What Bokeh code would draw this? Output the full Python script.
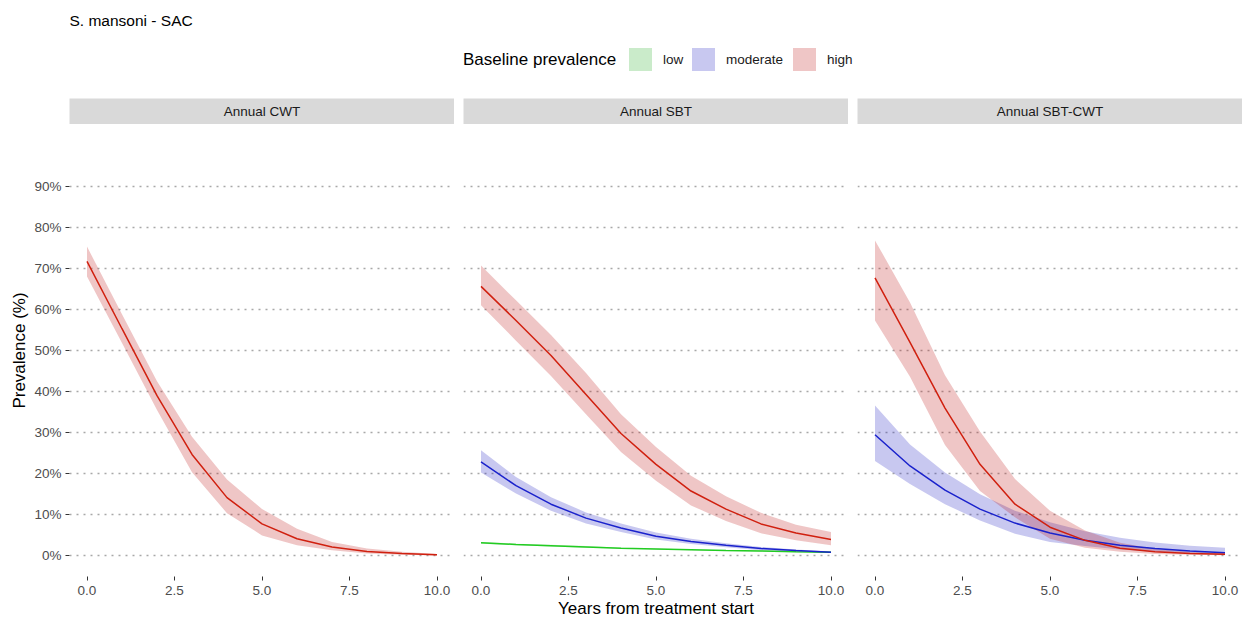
from bokeh.plotting import figure
from bokeh.layouts import column, row
from bokeh.models import ColumnDataSource, FixedTicker, Range1d
from bokeh.core.properties import value
from bokeh.embed import file_html
from bokeh.resources import INLINE

# ---------------- data ----------------
title_text = "S. mansoni - SAC"
legend_title = "Baseline prevalence"
categories = ["low", "moderate", "high"]
panels = ["Annual CWT", "Annual SBT", "Annual SBT-CWT"]
years = [0, 1, 2, 3, 4, 5, 6, 7, 8, 9, 10]

x_ticks = [0, 2.5, 5, 7.5, 10]
x_tick_labels = ["0.0", "2.5", "5.0", "7.5", "10.0"]
y_ticks = [0, 10, 20, 30, 40, 50, 60, 70, 80, 90]
y_tick_labels = ["0%", "10%", "20%", "30%", "40%", "50%", "60%", "70%", "80%", "90%"]
x_title = "Years from treatment start"
y_title = "Prevalence (%)"

# Annual CWT
cwt_high_mean = [71.7, 55.3, 39.0, 24.7, 14.2, 7.8, 4.2, 2.2, 1.1, 0.6, 0.3]
cwt_high_lo = [68.0, 51.8, 35.5, 20.4, 10.4, 5.0, 2.6, 1.4, 0.6, 0.3, 0.1]
cwt_high_hi = [75.3, 58.8, 42.5, 29.0, 18.6, 11.4, 6.6, 3.4, 1.8, 1.0, 0.5]

# Annual SBT
sbt_low_mean = [3.2, 2.8, 2.5, 2.2, 1.9, 1.7, 1.5, 1.3, 1.2, 1.0, 0.9]
sbt_low_lo = [3.0, 2.6, 2.3, 2.0, 1.8, 1.6, 1.4, 1.2, 1.1, 0.9, 0.8]
sbt_low_hi = [3.4, 3.0, 2.7, 2.4, 2.0, 1.8, 1.6, 1.4, 1.3, 1.1, 1.0]
sbt_mod_mean = [22.9, 17.1, 12.6, 9.2, 6.8, 4.8, 3.5, 2.6, 1.8, 1.3, 0.9]
sbt_mod_lo = [20.3, 15.2, 11.0, 7.9, 5.8, 4.0, 2.9, 2.1, 1.4, 1.0, 0.7]
sbt_mod_hi = [25.7, 19.2, 14.3, 10.6, 7.9, 5.7, 4.2, 3.1, 2.2, 1.6, 1.1]
sbt_high_mean = [65.6, 57.3, 48.8, 39.3, 29.8, 22.3, 15.8, 11.4, 7.8, 5.6, 4.0]
sbt_high_lo = [61.0, 52.4, 43.8, 34.5, 25.3, 18.3, 12.3, 8.5, 5.5, 3.8, 2.6]
sbt_high_hi = [70.7, 62.2, 53.8, 44.5, 34.5, 26.5, 19.5, 14.5, 10.5, 7.6, 5.8]

# Annual SBT-CWT
sbtcwt_mod_mean = [29.5, 21.9, 16.0, 11.4, 8.0, 5.6, 3.8, 2.6, 1.8, 1.2, 0.8]
sbtcwt_mod_lo = [23.1, 17.5, 12.6, 8.6, 5.4, 3.4, 2.4, 1.6, 1.0, 0.6, 0.4]
sbtcwt_mod_hi = [36.6, 27.1, 20.3, 15.0, 11.0, 8.2, 6.0, 4.4, 3.3, 2.5, 2.0]
sbtcwt_high_mean = [67.7, 52.0, 36.0, 22.3, 12.6, 7.0, 3.8, 1.9, 1.0, 0.6, 0.4]
sbtcwt_high_lo = [57.3, 43.6, 27.0, 15.8, 9.4, 4.2, 2.0, 1.0, 0.5, 0.3, 0.2]
sbtcwt_high_hi = [76.8, 61.7, 44.0, 30.3, 18.7, 11.0, 6.2, 3.2, 1.7, 1.0, 0.7]

panel_series = [
    [("high", cwt_high_mean, cwt_high_lo, cwt_high_hi)],
    [("low", sbt_low_mean, sbt_low_lo, sbt_low_hi),
     ("moderate", sbt_mod_mean, sbt_mod_lo, sbt_mod_hi),
     ("high", sbt_high_mean, sbt_high_lo, sbt_high_hi)],
    [("moderate", sbtcwt_mod_mean, sbtcwt_mod_lo, sbtcwt_mod_hi),
     ("high", sbtcwt_high_mean, sbtcwt_high_lo, sbtcwt_high_hi)],
]

# ---------------- style ----------------
FONT = "Liberation Sans"
fill_colors = {"low": "#1AAA1A", "moderate": "#1010C0", "high": "#BB0A0A"}
line_colors = {"low": "#22CC22", "moderate": "#1A22CC", "high": "#D0200F"}
FILL_ALPHA = 0.23

FW = 385          # panel frame width
FH = 452          # panel frame height
STRIP_H = 26
HDR_H = 98
LEFT_W = 69
GAP = 9
TOTAL_W = LEFT_W + 3 * FW + 2 * GAP
X_RANGE = (-0.5, 10.5)
Y_RANGE = (-5, 105)


def base_fig(**kw):
    p = figure(output_backend="svg", toolbar_location=None, **kw)
    p.outline_line_color = None
    p.border_fill_color = "white"
    p.background_fill_color = "white"
    return p


# ---------------- header (title + legend) ----------------
hdr = base_fig(width=TOTAL_W, height=HDR_H, x_range=Range1d(0, TOTAL_W),
               y_range=Range1d(HDR_H, 0), min_border=0)
hdr.axis.visible = False
hdr.grid.visible = False
hdr.text(x=[LEFT_W], y=[20], text=[title_text], text_baseline="middle",
         text_align="left", text_font=value(FONT), text_font_size="15.5px",
         text_color="#000000")

leg_cx = LEFT_W + FW + GAP + FW / 2
leg_x0 = leg_cx - 193
leg_y = 59
hdr.text(x=[leg_x0], y=[leg_y], text=[legend_title], text_baseline="middle",
         text_align="left", text_font=value(FONT), text_font_size="17px",
         text_color="#000000")
sw_x = [leg_x0 + 166 + 11.5, leg_x0 + 229 + 11.5, leg_x0 + 330 + 11.5]
lab_x = [leg_x0 + 200, leg_x0 + 263, leg_x0 + 364]
hdr.rect(x=sw_x, y=[leg_y] * 3, width=23, height=23,
         fill_color=[fill_colors[c] for c in categories], fill_alpha=FILL_ALPHA,
         line_color=None)
hdr.text(x=lab_x, y=[leg_y] * 3, text=categories, text_baseline="middle",
         text_align="left", text_font=value(FONT), text_font_size="13.5px",
         text_color="#1A1A1A")

# ---------------- panels ----------------
cols = []
for i, (name, series) in enumerate(zip(panels, panel_series)):
    left = LEFT_W if i == 0 else GAP
    xr = Range1d(*X_RANGE)

    strip = base_fig(frame_width=FW, frame_height=STRIP_H, x_range=xr,
                     y_range=Range1d(0, 1), min_border_left=left,
                     min_border_right=0, min_border_top=0, min_border_bottom=0)
    strip.background_fill_color = "#D9D9D9"
    strip.axis.visible = False
    strip.grid.visible = False
    strip.text(x=[(X_RANGE[0] + X_RANGE[1]) / 2], y=[0.5], text=[name],
               text_align="center", text_baseline="middle",
               text_font=value(FONT), text_font_size="13.5px",
               text_color="#1A1A1A")

    p = base_fig(frame_width=FW, frame_height=FH, x_range=xr,
                 y_range=Range1d(*Y_RANGE), min_border_left=left,
                 min_border_right=0, min_border_top=0, min_border_bottom=0)

    for cat, mean, lo, hi in series:
        src = ColumnDataSource(dict(x=years, lo=lo, hi=hi))
        p.varea(x="x", y1="lo", y2="hi", source=src,
                fill_color=fill_colors[cat], fill_alpha=FILL_ALPHA)
    for cat, mean, lo, hi in series:
        src = ColumnDataSource(dict(x=years, y=mean))
        p.line(x="x", y="y", source=src, line_color=line_colors[cat],
               line_width=1.5)

    p.xgrid.visible = False
    p.ygrid.ticker = FixedTicker(ticks=y_ticks)
    p.ygrid.grid_line_color = "#A8A8A8"
    p.ygrid.grid_line_dash = "2 5"
    p.ygrid.grid_line_width = 1.3

    xa = p.xaxis[0]
    xa.ticker = FixedTicker(ticks=x_ticks)
    xa.major_label_overrides = dict(zip(x_ticks, x_tick_labels))
    xa.axis_line_color = None
    xa.major_tick_line_color = "#333333"
    xa.major_tick_in = 0
    xa.major_tick_out = 4
    xa.minor_tick_line_color = None
    xa.major_label_text_font = FONT
    xa.major_label_text_font_size = "13.5px"
    xa.major_label_text_color = "#4D4D4D"
    xa.major_label_standoff = 5
    if i == 1:
        xa.axis_label = x_title
        xa.axis_label_text_font = FONT
        xa.axis_label_text_font_size = "17px"
        xa.axis_label_text_font_style = "normal"
        xa.axis_label_text_color = "#000000"
        xa.axis_label_standoff = 1

    ya = p.yaxis[0]
    if i == 0:
        ya.ticker = FixedTicker(ticks=y_ticks)
        ya.major_label_overrides = dict(zip(y_ticks, y_tick_labels))
        ya.axis_line_color = None
        ya.major_tick_line_color = "#333333"
        ya.major_tick_in = 0
        ya.major_tick_out = 4
        ya.minor_tick_line_color = None
        ya.major_label_text_font = FONT
        ya.major_label_text_font_size = "13.5px"
        ya.major_label_text_color = "#4D4D4D"
        ya.major_label_standoff = 4
        ya.axis_label = y_title
        ya.axis_label_text_font = FONT
        ya.axis_label_text_font_size = "17px"
        ya.axis_label_text_font_style = "normal"
        ya.axis_label_text_color = "#000000"
        ya.axis_label_standoff = 2
    else:
        ya.visible = False

    cols.append(column(strip, p, spacing=0))

layout = column(hdr, row(*cols, spacing=0), spacing=0)

with open("out.html", "w") as f:
    f.write(file_html(layout, INLINE))
